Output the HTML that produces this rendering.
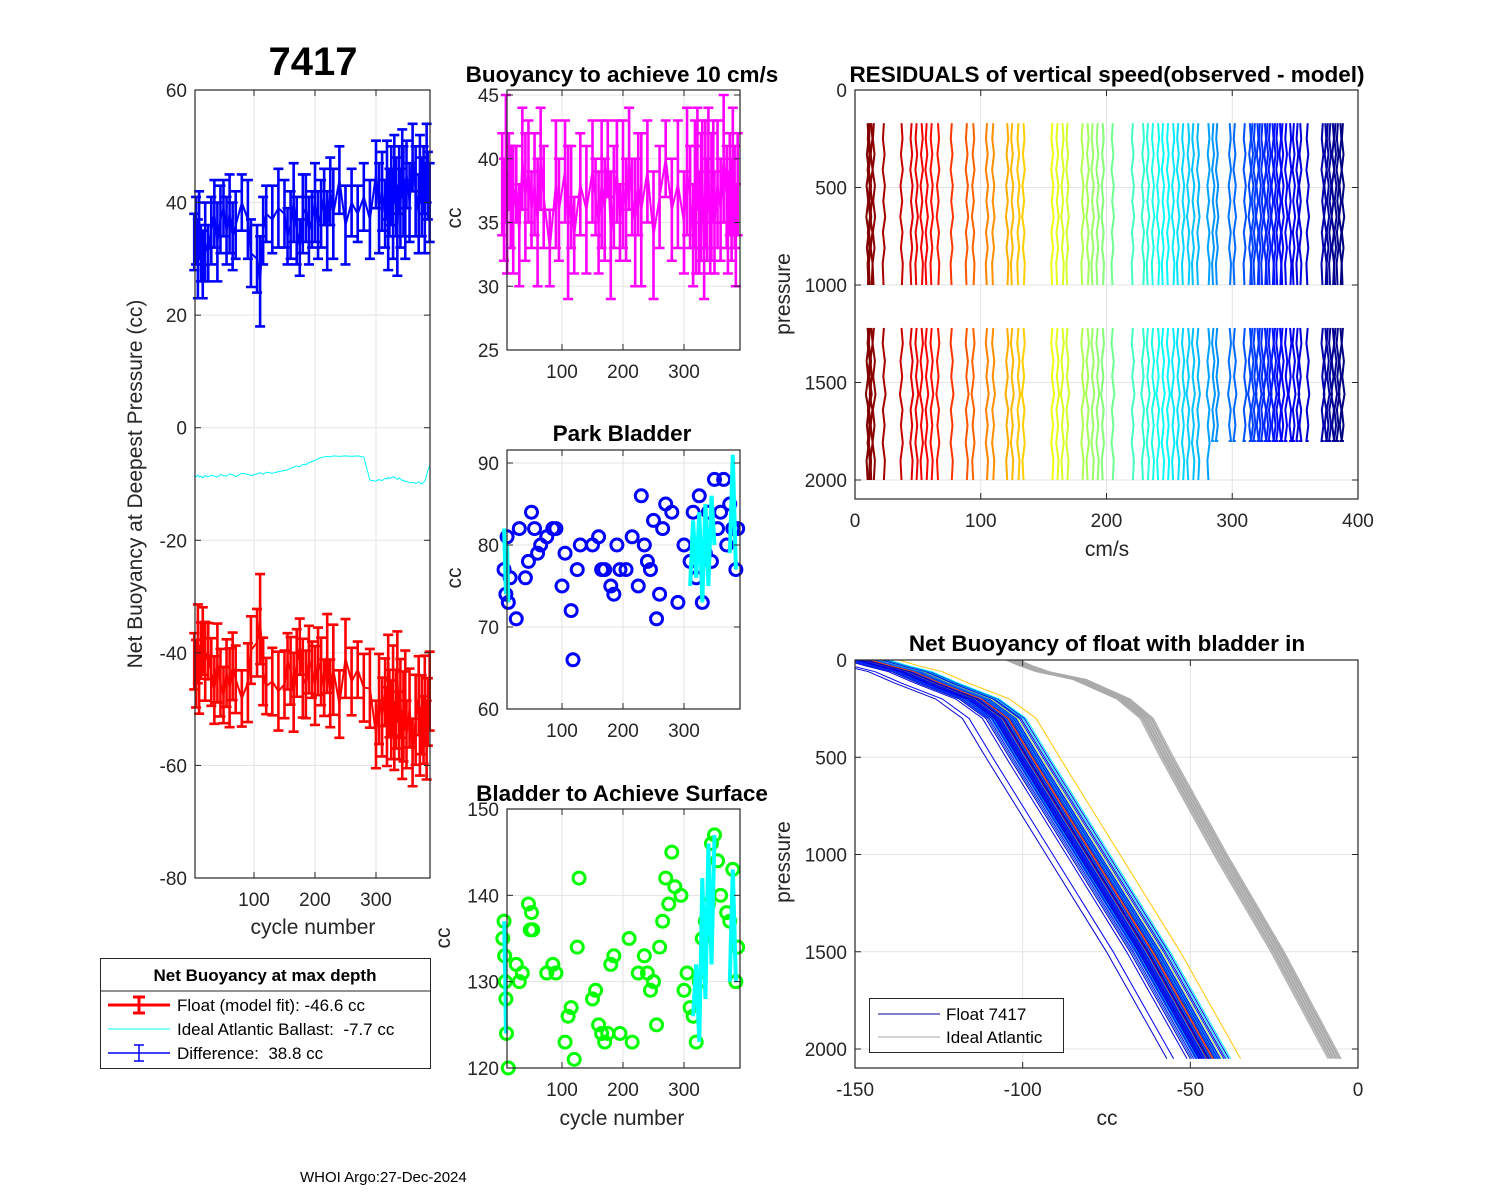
<!DOCTYPE html>
<html><head><meta charset="utf-8"><style>
html,body{margin:0;padding:0;background:#fff;}
svg{display:block;font-family:"Liberation Sans",Arial,sans-serif;}
text{white-space:pre;}
</style></head><body>
<svg id="fig" width="1500" height="1200" viewBox="0 0 1500 1200" xmlns="http://www.w3.org/2000/svg">
<g id="bg"><rect width="1500" height="1200" fill="#fff"/></g>
</svg>
<script>
// ---------- data ----------
const cycles1=[2,5,8,10,13,16,20,25,30,35,40,45,50,55,60,65,70,80,90,95,105,110,115,120,130,140,150,155,160,165,170,175,180,185,190,195,200,205,210,215,220,225,230,240,250,260,270,280,290,300,305,310,315,318,320,322,325,328,330,333,335,338,340,343,345,348,350,355,360,365,370,372,375,378,380,383,385,388];
const blueVal=[33,35,30,36,31,29,33,31,35,38,33,37,39,35,38,34,36,40,37,31,30,26,35,38,37,39,38,34,36,40,35,32,38,39,35,37,40,36,38,41,35,42,38,44,36,40,38,41,37,45,39,42,38,44,36,40,43,38,46,41,35,44,39,47,42,37,45,40,48,42,38,46,41,44,39,47,43,40];
const errVal=[5,6,7,6,5,6,7,5,6,6,7,6,5,6,7,6,6,5,7,6,6,8,6,5,6,7,6,5,6,7,6,5,7,6,6,5,7,6,6,5,7,6,8,6,7,6,5,6,7,6,8,7,6,7,8,6,7,8,6,7,8,6,7,6,8,7,6,7,6,8,7,6,7,6,8,7,6,7];
const idealVal=[-8.5,-8.7,-8.4,-8.8,-8.6,-8.9,-8.5,-8.7,-8.4,-8.6,-8.8,-8.3,-8.5,-8.6,-8.2,-8.4,-8.7,-8.1,-8.3,-8.5,-8.2,-8.0,-8.3,-7.9,-8.1,-7.8,-7.6,-7.5,-7.2,-7.0,-6.8,-6.9,-6.5,-6.6,-6.2,-6.0,-5.8,-5.5,-5.3,-5.2,-5.1,-5.2,-5.0,-5.1,-5.0,-5.1,-5.0,-5.2,-9.3,-9.5,-9.2,-9.4,-9.0,-9.1,-8.8,-9.0,-8.9,-8.7,-8.8,-9.0,-9.2,-8.9,-9.1,-9.4,-9.3,-9.6,-9.5,-9.8,-9.7,-9.9,-9.6,-9.8,-10.0,-9.7,-9.5,-8.5,-7.5,-6.8];
const buoyVal=[38,36,40,35,39,37,36,38,34,40,37,39,36,38,35,40,37,33,38,36,39,35,37,34,38,36,39,37,35,38,36,40,34,37,39,35,38,36,40,37,35,38,36,39,34,37,40,36,38,35,39,37,34,38,36,40,35,37,39,33,38,36,40,34,37,39,35,38,36,40,37,35,38,36,39,37,34,38];
const buoyErr=[4,4,5,4,3,4,5,3,4,4,5,4,3,4,5,4,4,3,5,4,4,6,4,3,4,5,4,3,4,5,4,3,5,4,4,3,5,4,4,3,5,4,6,4,5,4,3,4,5,4,5,4,4,5,5,4,4,5,4,4,5,4,4,3,5,4,4,5,4,5,4,4,4,4,5,4,4,4];
const parkCycles=[5,8,10,12,15,25,30,40,45,50,55,60,65,75,85,90,100,105,115,118,125,130,150,160,165,170,180,185,190,195,205,215,225,230,235,240,245,250,255,260,265,270,280,290,300,310,315,320,325,330,335,340,345,350,355,360,365,370,375,380,385,388];
const parkVals=[77,74,81,73,76,71,82,76,78,84,82,79,80,81,82,82,75,79,72,66,77,80,80,81,77,77,75,74,80,77,77,81,75,86,80,78,77,83,71,74,82,85,84,73,80,78,84,76,86,73,79,84,78,88,82,84,88,80,85,82,77,82];
const parkLineC=[[5,8,10,12],[310,315,320,325,330,335,340,345,350],[375,380,385]];
const parkLineV=[[82,74,80,73],[75,83,76,84,73,85,75,86,80],[79,91,77]];
const surfCycles=[3,5,6,7,8,9,12,25,30,35,45,48,50,52,75,85,90,105,110,115,120,125,128,150,155,160,165,170,175,180,185,195,210,215,225,235,240,245,250,255,260,265,270,275,280,285,295,300,305,310,315,320,325,330,335,340,345,350,355,360,370,375,380,385,388];
const surfVals=[135,137,133,130,128,124,120,132,130,131,139,136,138,136,131,132,131,123,126,127,121,134,142,128,129,125,124,123,124,132,133,124,135,123,131,133,131,129,130,125,134,137,142,139,145,141,140,129,131,127,126,123,130,135,137,139,146,147,144,140,138,137,143,130,134];
const surfLineC=[[5,6,7,8],[315,320,325,330,335,340,345,350],[375,380,385]];
const surfLineV=[[137,133,130,124],[126,132,123,142,128,146,132,147],[130,143,130]];
// residuals
const resOffsets=[10,11,12,13,15,23,37,45,49,53,57,61,66,77,89,94,105,110,121,125,130,134,157,161,165,169,181,185,189,193,197,205,221,229,233,237,241,245,249,253,257,261,265,269,273,281,285,288,298,302,310,314,316,318,320,322,324,326,328,330,332,334,336,338,340,343,346,349,352,354,360,372,374,376,378,380,382,384,386,388];
const resP1=[170,250,330,410,490,570,650,730,810,890,1000];
const resW1=[0,0.8,-0.5,1,-0.8,0.5,-1,0.8,-0.5,1,0.3];
const resP2=[1220,1300,1390,1470,1560,1640,1720,1810,1900,2000];
const resW2=[0,-1,0.8,-0.5,1.3,-0.8,0.5,-1,0.8,0];
// net buoyancy profiles
const profP=[0,30,60,120,200,300,500,1000,1500,2050];
const profCC=[-147,-141,-134,-126,-114,-106,-99,-81,-63,-45];
const idealP=[0,30,60,100,200,300,500,1000,1500,2050];
const idealCC=[-103,-99,-94,-83,-70,-63,-57,-41,-24,-7];
const floatOffsets=[-12,-10,-6,-5,-4.5,-4,-3.5,-3,-2.8,-2.5,-2.2,-2,-1.8,-1.5,-1.2,-1,-0.8,-0.5,-0.3,0,0.2,0.5,0.8,1,1.2,1.5,1.8,2,2.2,2.5,2.8,3,3.2,3.5,3.8,4,4.5,5,5.5,6,6.5,7,10,-1.5,0.5,2.5,-3.2,1.6,3.6,-2.4];
const floatColorT=[0.08,0.12,0.1,0.06,0.2,0.1,0.25,0.08,0.3,0.12,0.06,0.18,0.1,0.35,0.08,0.22,0.12,0.06,0.28,0.9,0.1,0.15,0.05,0.33,0.12,0.2,0.08,0.75,0.1,0.25,0.06,0.38,0.12,0.18,0.3,0.1,0.55,0.15,0.08,0.35,0.12,0.37,0.68,0.1,0.06,0.2,0.14,0.8,0.25,0.09];
const idealOffsets=[-2,-1.6,-1.2,-0.8,-0.4,0,0.4,0.8,1.2,1.6,2,-1,0.6,1.4,-0.2];
// ticks
const p1Yticks=[60,40,20,0,-20,-40,-60,-80];
const cycTicks=[100,200,300];
const p2Yticks=[45,40,35,30,25];
const p3Yticks=[90,80,70,60];
const p4Yticks=[150,140,130,120];
const p5Xticks=[0,100,200,300,400];
const pTicks=[0,500,1000,1500,2000];
const p6Xticks=[-150,-100,-50,0];

// ---------- helpers ----------
const NS='http://www.w3.org/2000/svg';
const svg=document.getElementById('fig');
function el(tag,attrs,parent,text){const e=document.createElementNS(NS,tag);for(const k in attrs)e.setAttribute(k,attrs[k]);if(text!==undefined)e.textContent=text;(parent||svg).appendChild(e);return e;}
function grp(name){const g=document.createElementNS(NS,'g');svg.appendChild(g);return g;}
function lin(d0,d1,r0,r1){return v=>r0+(v-d0)*(r1-r0)/(d1-d0);}
function jet(t){const r=Math.min(Math.max(Math.min(4*t-1.5,-4*t+4.5),0),1),g=Math.min(Math.max(Math.min(4*t-0.5,-4*t+3.5),0),1),b=Math.min(Math.max(Math.min(4*t+0.5,-4*t+2.5),0),1);return `rgb(${Math.round(r*255)},${Math.round(g*255)},${Math.round(b*255)})`;}
function axesBox(g,x0,y0,x1,y1,xt,xs,yt,ys){
  xt.forEach(t=>{const x=xs(t);el('line',{x1:x,y1:y0,x2:x,y2:y1,stroke:'#e3e3e3','stroke-width':1},g);});
  yt.forEach(t=>{const y=ys(t);el('line',{x1:x0,y1:y,x2:x1,y2:y,stroke:'#e3e3e3','stroke-width':1},g);});
}
function axesFrame(g,x0,y0,x1,y1,xt,xs,yt,ys){
  el('rect',{x:x0,y:y0,width:x1-x0,height:y1-y0,fill:'none',stroke:'#262626','stroke-width':1.2},g);
  xt.forEach(t=>{const x=xs(t);el('line',{x1:x,y1:y1,x2:x,y2:y1-6,stroke:'#262626'},g);el('line',{x1:x,y1:y0,x2:x,y2:y0+6,stroke:'#262626'},g);
    const tx=el('text',{x:x,y:y1+28,'text-anchor':'middle','font-size':19,fill:'#262626'},g,String(t));});
  yt.forEach(t=>{const y=ys(t);el('line',{x1:x0,y1:y,x2:x0+6,y2:y,stroke:'#262626'},g);el('line',{x1:x1,y1:y,x2:x1-6,y2:y,stroke:'#262626'},g);
    const tx=el('text',{x:x0-8,y:y+7,'text-anchor':'end','font-size':19,fill:'#262626'},g,String(t));});
}
function label(g,x,y,txt,size,bold,rot,name){const a={x:x,y:y,'text-anchor':'middle','font-size':size,fill:bold?'#000':'#262626'};if(bold)a['font-weight']='bold';if(rot)a.transform=`rotate(-90 ${x} ${y})`;const t=el('text',a,g,txt);return t;}
function errBars(g,cx,vals,errs,xs,ys,color,name,cap){
  let d='';cx.forEach((c,i)=>{d+=(i?'L':'M')+xs(c).toFixed(1)+','+ys(vals[i]).toFixed(1);});
  const pl=el('path',{d:d,fill:'none',stroke:color,'stroke-width':2},g);
  cx.forEach((c,i)=>{const x=xs(c),yt=ys(vals[i]+errs[i]),yb=ys(vals[i]-errs[i]);
    const p=el('path',{d:`M${x},${yt}L${x},${yb}M${x-cap},${yt}L${x+cap},${yt}M${x-cap},${yb}L${x+cap},${yb}`,stroke:color,'stroke-width':2.6,fill:'none'},g);
    });
}
const TS=22.5;
// ---------- panel 1 ----------
{const g=grp('net-buoyancy-panel');
const xs=lin(100,200,254,315), ys=lin(60,-80,90,878);
axesBox(g,195,90,430,878,cycTicks,xs,p1Yticks,ys);
const redVal=blueVal.map((b,i)=>idealVal[i]-b);
errBars(g,cycles1,blueVal,errVal,xs,ys,'#0000ff','difference',5);
errBars(g,cycles1,redVal,errVal,xs,ys,'#ff0000','float-model-fit',5);
let d='';cycles1.forEach((c,i)=>{d+=(i?'L':'M')+xs(c).toFixed(1)+','+ys(idealVal[i]).toFixed(1);});
const cl=el('path',{d:d,fill:'none',stroke:'#00ffff','stroke-width':1},g);
axesFrame(g,195,90,430,878,cycTicks,xs,p1Yticks,ys);
label(g,313,75,'7417',40,true,false,'float-id-title');
label(g,142,484,'Net Buoyancy at Deepest Pressure (cc)',21,false,true,'y-axis-title');
label(g,313,934,'cycle number',21,false,false,'x-axis-title');
const lg=grp('legend-net-buoyancy');
el('rect',{x:100.5,y:958.5,width:330,height:110,fill:'#fff',stroke:'#262626'},lg);
el('line',{x1:100.5,y1:991,x2:430.5,y2:991,stroke:'#262626'},lg);
label(lg,265,981,'Net Buoyancy at max depth',17,true,false,'legend-title');
el('line',{x1:108,y1:1005,x2:170,y2:1005,stroke:'#f00','stroke-width':3},lg);
el('path',{d:'M139,997L139,1013M133,997L145,997M133,1013L145,1013',stroke:'#f00','stroke-width':3},lg);
el('line',{x1:108,y1:1029,x2:170,y2:1029,stroke:'#00ffff','stroke-width':1},lg);
el('line',{x1:108,y1:1053,x2:170,y2:1053,stroke:'#00f','stroke-width':1.5},lg);
el('path',{d:'M139,1045L139,1061M134,1045L144,1045M134,1061L144,1061',stroke:'#00f','stroke-width':1.5},lg);
[['Float (model fit): -46.6 cc',1011],['Ideal Atlantic Ballast:  -7.7 cc',1035],['Difference:  38.8 cc',1059]].forEach(([t,y])=>{const tx=el('text',{x:177,y:y,'font-size':17,fill:'#000'},lg,t);});
}
// ---------- panel 2 ----------
{const g=grp('buoyancy-10cms-panel');
const xs=lin(100,200,562,623), ys=lin(45,25,95,350);
axesBox(g,507,90,740,350,cycTicks,xs,p2Yticks,ys);
errBars(g,cycles1,buoyVal,buoyErr,xs,ys,'#ff00ff','buoyancy',5);
axesFrame(g,507,90,740,350,cycTicks,xs,p2Yticks,ys);
label(g,622,82,'Buoyancy to achieve 10 cm/s',TS,true,false,'panel-title');
label(g,461,218,'cc',21,false,true,'y-axis-title');
}
// ---------- panel 3 & 4 ----------
function scatterPanel(name,y0,y1,yt,ys,cyc,vals,lc,lv,color,title,titleY){
  const g=grp(name);const xs=lin(100,200,562,623);
  axesBox(g,507,y0,740,y1,cycTicks,xs,yt,ys);
  cyc.forEach((c,i)=>{const ci=el('circle',{cx:xs(c),cy:ys(vals[i]),r:6,fill:'none',stroke:color,'stroke-width':3},g);});
  lc.forEach((seg,k)=>{let d='';seg.forEach((c,i)=>{d+=(i?'L':'M')+xs(c).toFixed(1)+','+ys(lv[k][i]).toFixed(1);});const p=el('path',{d:d,fill:'none',stroke:'#00ffff','stroke-width':4},g);});
  axesFrame(g,507,y0,740,y1,cycTicks,xs,yt,ys);
  label(g,622,titleY,title,TS,true,false,'panel-title');
  return g;
}
{const ys=lin(90,60,463,709);
const g=scatterPanel('park-bladder-panel',450,709,p3Yticks,ys,parkCycles,parkVals,parkLineC,parkLineV,'#0000ff','Park Bladder',441);
label(g,461,578,'cc',21,false,true,'y-axis-title');}
{const ys=lin(150,120,809,1068);
const g=scatterPanel('surface-bladder-panel',809,1068,p4Yticks,ys,surfCycles,surfVals,surfLineC,surfLineV,'#00ff00','Bladder to Achieve Surface',801);
label(g,450,938,'cc',21,false,true,'y-axis-title');
label(g,622,1125,'cycle number',21,false,false,'x-axis-title');}
// ---------- panel 5 residuals ----------
{const g=grp('residuals-panel');
const xs=lin(0,400,855,1358), ys=lin(0,2100,90,499.5);
axesBox(g,855,90,1358,499,p5Xticks,xs,pTicks,ys);
resOffsets.forEach((o,i)=>{const col=jet(1-(o-10)/378);
  const sgn=(i%3===0)?1:-1;
  let d='';resP1.forEach((p,j)=>{d+=(j?'L':'M')+xs(o+sgn*resW1[j]).toFixed(1)+','+ys(p).toFixed(1);});
  const a=el('path',{d:d,fill:'none',stroke:col,'stroke-width':2},g);
  const endP=o>=283?1800:2000;
  let d2='';resP2.forEach((p,j)=>{const pp=Math.min(p,endP);d2+=(j?'L':'M')+xs(o-sgn*resW2[j]).toFixed(1)+','+ys(pp).toFixed(1);});
  const b=el('path',{d:d2,fill:'none',stroke:col,'stroke-width':2},g);
});
axesFrame(g,855,90,1358,499,p5Xticks,xs,pTicks,ys);
label(g,1107,82,'RESIDUALS of vertical speed(observed - model)',TS,true,false,'panel-title');
label(g,790,294,'pressure',21,false,true,'y-axis-title');
label(g,1107,556,'cm/s',21,false,false,'x-axis-title');
}
// ---------- panel 6 net buoyancy profiles ----------
{const g=grp('net-buoyancy-profiles-panel');
const xs=lin(-150,0,855,1358), ys=lin(0,2000,660,1049);
axesBox(g,855,660,1358,1068,p6Xticks,xs,pTicks,ys);
const cp=el('clipPath',{id:'c6'},g);el('rect',{x:855,y:660,width:503,height:408},cp);
const inner=el('g',{'clip-path':'url(#c6)'},g);
idealOffsets.forEach(o=>{let d='';idealP.forEach((p,j)=>{d+=(j?'L':'M')+xs(idealCC[j]+o).toFixed(1)+','+ys(p).toFixed(1);});const a=el('path',{d:d,fill:'none',stroke:'#aaaaaa','stroke-width':1},inner);});
floatOffsets.forEach((o,i)=>{
  const col=jet(floatColorT[i]);let d='';profP.forEach((p,j)=>{d+=(j?'L':'M')+xs(profCC[j]+o).toFixed(1)+','+ys(p).toFixed(1);});
  const a=el('path',{d:d,fill:'none',stroke:col,'stroke-width':1},inner);});
axesFrame(g,855,660,1358,1068,p6Xticks,xs,pTicks,ys);
label(g,1107,651,'Net Buoyancy of float with bladder in',TS,true,false,'panel-title');
label(g,790,862,'pressure',21,false,true,'y-axis-title');
label(g,1107,1125,'cc',21,false,false,'x-axis-title');
const lg=grp('legend-profiles');
el('rect',{x:869.5,y:998.5,width:194,height:54,fill:'#fff',stroke:'#262626'},lg);
el('line',{x1:878,y1:1014,x2:940,y2:1014,stroke:'#00008f','stroke-width':1},lg);
el('line',{x1:878,y1:1037,x2:940,y2:1037,stroke:'#aaa','stroke-width':1},lg);
const t1=el('text',{x:946,y:1020,'font-size':17,fill:'#000'},lg,'Float 7417');
const t2=el('text',{x:946,y:1043,'font-size':17,fill:'#000'},lg,'Ideal Atlantic');
}
{const g=grp('footer');const t=el('text',{x:300,y:1182,'font-size':15,fill:'#000'},g,'WHOI Argo:27-Dec-2024');}
</script>
</body></html>
